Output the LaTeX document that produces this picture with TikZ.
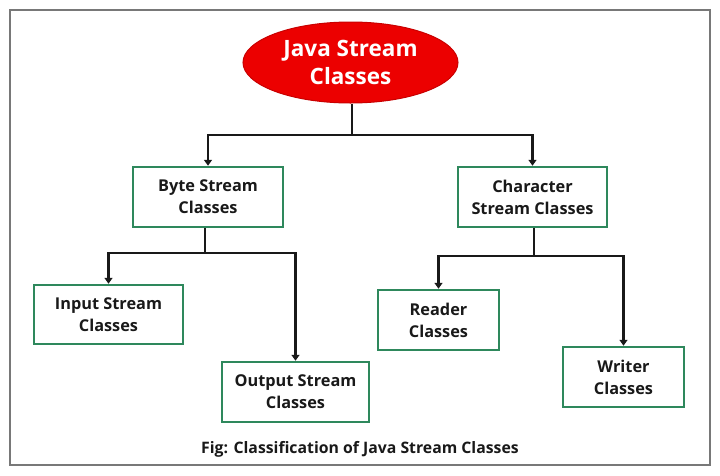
\documentclass[tikz,border=0pt]{standalone}
\usepackage{fontspec}
\setmainfont{Open Sans}
\usetikzlibrary{shapes.geometric,arrows.meta}
\definecolor{boxgreen}{RGB}{46,136,92}
\definecolor{rootred}{RGB}{236,0,0}
\definecolor{framegray}{RGB}{120,120,120}
\tikzset{
  classbox/.style={draw=boxgreen, line width=2.5pt, fill=white, inner sep=0pt, align=center,
    font=\bfseries\fontsize{16.3}{22}\selectfont, text=black!90},
  rootnode/.style={ellipse, draw=rootred!85!black, line width=1pt, fill=rootred, inner sep=0pt,
    minimum width=215pt, minimum height=81pt, align=center,
    font=\bfseries\fontsize{22.5}{28}\selectfont, text=white},
  link/.style={line width=2.5pt, draw=black!90},
  arrowlink/.style={link, -{Triangle[width=8pt,length=6pt]}},
}
\begin{document}
\begin{tikzpicture}[x=1pt,y=-1pt]
\useasboundingbox (0,0) rectangle (720,475);
\fill[white] (0,0) rectangle (720,475);
\draw[framegray, line width=2pt] (10,10) rectangle (710,465);

\node[rootnode] (root) at (350.5,62.5) {Java Stream\\Classes};
\node[classbox, minimum width=150pt, minimum height=60pt] (byte) at (208,197) {Byte Stream\\Classes};
\node[classbox, minimum width=149pt, minimum height=60pt] (char) at (532.5,197) {Character\\Stream Classes};
\node[classbox, minimum width=149pt, minimum height=59pt] (input) at (108.5,314.5) {Input Stream\\Classes};
\node[classbox, minimum width=147pt, minimum height=60pt] (output) at (295.5,392) {Output Stream\\Classes};
\node[classbox, minimum width=121pt, minimum height=60pt] (reader) at (438.5,320) {Reader\\Classes};
\node[classbox, minimum width=121pt, minimum height=60pt] (writer) at (623.5,377) {Writer\\Classes};

\node[font=\bfseries\fontsize{15.8}{18}\selectfont, text=black!90, anchor=base] (caption) at (360,453) {Fig: Classification of Java Stream Classes};

\coordinate (j1) at (352,135);
\coordinate (j2) at (205,253);
\coordinate (j3) at (534,256);

\draw[link] (root.south -| j1) -- (j1);
\draw[arrowlink] (j1) -| (byte.north);
\draw[arrowlink] (j1) -| (char.north);

\draw[link] (byte.south -| j2) -- (j2);
\draw[arrowlink] (j2) -| (input.north);
\draw[arrowlink] (j2) -| (output.north);

\draw[link] (char.south -| j3) -- (j3);
\draw[arrowlink] (j3) -| (reader.north);
\draw[arrowlink] (j3) -| (writer.north);
\end{tikzpicture}
\end{document}
